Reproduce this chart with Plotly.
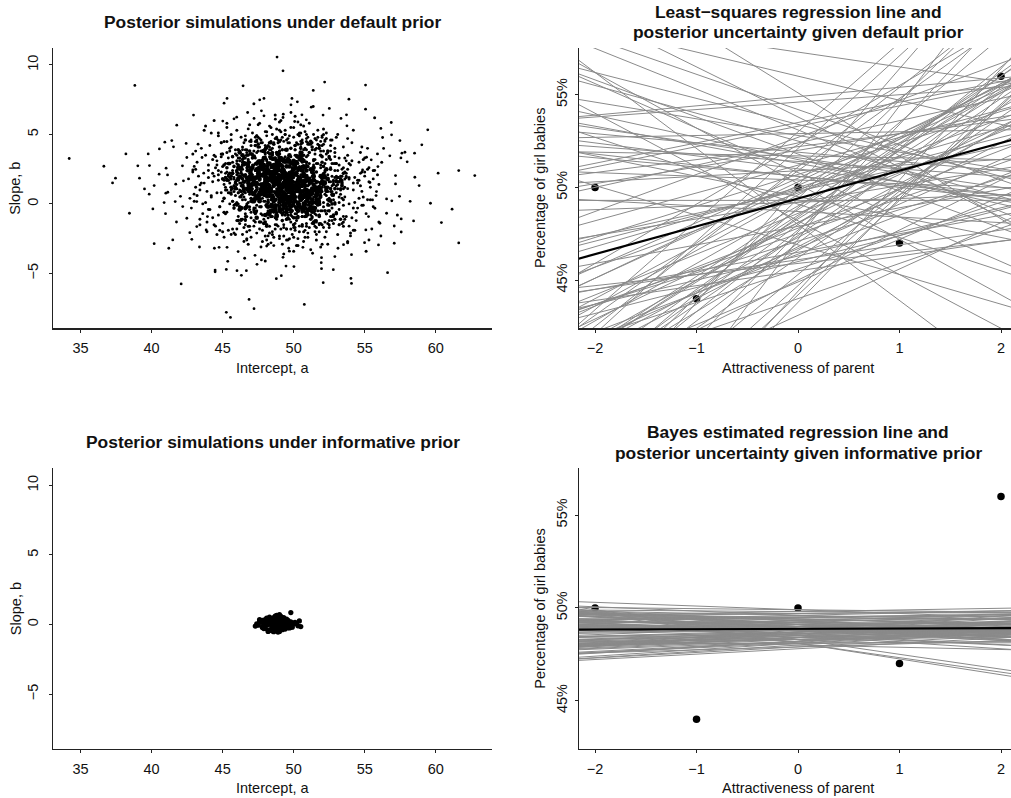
import plotly.graph_objects as go

W, H = 1011, 798

# ------------------------------------------------------------------ data
obs_x = [-2, -1, 0, 1, 2]
obs_y = [50, 44, 50, 47, 56]
ls_fit = [49.4, 1.5]        # least-squares intercept, slope
bayes_fit = [48.87, 0.02]   # Bayes estimate intercept, slope

# posterior simulations, default prior: dense centre
core_a = [
    49.1, 47.8, 50.6, 48.4, 51.2, 49.7, 46.9, 50.0, 48.8, 52.0,
    48.1, 49.5, 50.9, 47.3, 49.9, 51.6, 48.6, 50.3, 47.9, 49.3,
    50.7, 46.5, 49.0, 51.1, 48.2, 49.8, 50.4, 47.6, 52.3, 48.9,
    49.4, 50.2, 47.1, 48.5, 51.8, 49.6, 48.0, 50.8, 46.3, 49.2,
    51.4, 48.7, 50.1, 47.4, 49.0, 50.5, 48.3, 51.0, 49.7, 47.7,
    48.9, 52.1, 49.4, 46.7, 50.6, 48.1, 49.9, 47.5, 51.3, 50.0,
    47.2, 49.6, 50.9, 48.6, 46.1, 51.7, 49.1, 48.4, 50.2, 49.5,
    50.4, 48.0, 47.9, 51.5, 49.3, 46.8, 50.7, 48.8, 52.2, 49.8,
    48.5, 50.3, 49.0, 47.0, 51.9, 48.2, 50.1, 49.6, 47.6, 51.1,
    49.7, 46.4, 50.8, 48.7, 49.2, 51.2, 47.8, 50.5, 48.3, 49.9,
    51.6, 49.4, 48.1, 50.0, 47.3, 52.4, 48.9, 49.1, 50.6, 46.6,
    48.4, 50.9, 49.5, 47.7, 51.4, 48.6, 50.3, 46.2, 49.8, 51.0,
    50.2, 47.5, 48.8, 51.8, 49.3, 48.0, 50.7, 47.1, 49.6, 52.0,
    49.0, 51.3, 46.9, 50.4, 48.5, 49.7, 47.4, 50.1, 51.5, 48.2,
    47.9, 49.2, 50.8, 48.7, 46.5, 51.1, 49.9, 48.3, 50.5, 47.6,
    50.0, 48.6, 51.7, 49.4, 47.2, 50.2, 48.9, 46.7, 51.9, 49.1,
    48.1, 50.6, 49.5, 47.8, 52.1, 48.4, 50.9, 49.0, 47.0, 51.2,
    49.8, 46.3, 50.3, 48.8, 51.6, 49.3, 47.5, 50.7, 48.0, 49.6,
    51.0, 48.5, 47.3, 50.1, 49.7, 52.3, 48.2, 46.8, 50.4, 49.2,
    47.7, 50.8, 49.0, 51.4, 48.7, 49.9, 46.1, 50.0, 48.3, 51.8,
    49.5, 48.9, 50.5, 47.4, 51.3, 48.1, 49.4, 50.9, 47.9, 52.2,
    48.6, 51.1, 46.6, 49.8, 50.2, 48.4, 51.5, 49.1, 47.1, 50.6,
    50.3, 47.6, 49.3, 48.0, 51.7, 50.0, 46.4, 49.7, 48.8, 51.0,
    49.2, 50.7, 48.5, 52.0, 47.2, 49.6, 50.4, 48.2, 51.2, 46.9,
    47.8, 49.0, 51.9, 48.7, 50.1, 46.2, 49.5, 50.8, 48.3, 49.9,
    51.4, 48.9, 47.5, 50.5, 49.4, 51.6, 48.1, 47.0, 50.3, 49.8,
    49.3, 48.4, 50.2, 47.7, 49.8, 50.9, 48.9, 47.2, 50.5, 49.0,
    48.1, 50.0, 49.5, 51.3, 48.6, 47.5, 49.9, 50.7, 48.3, 49.2,
    50.4, 47.9, 48.8, 49.6, 51.0, 48.0, 50.1, 49.4, 47.0, 51.6,
    48.7, 49.7, 50.8, 48.2, 47.4, 49.1, 50.3, 51.4, 48.5, 49.8,
    49.5, 51.1, 47.8, 50.6, 49.0, 48.3, 46.9, 50.0, 49.3, 48.6,
    50.9, 48.9, 49.6, 47.3, 50.2, 51.7, 48.1, 49.4, 50.5, 47.6,
    48.4, 50.4, 49.1, 48.8, 51.2, 47.1, 49.9, 48.0, 50.7, 49.2,
    49.7, 47.8, 50.1, 49.5, 48.5, 50.8, 47.5, 51.5, 49.0, 48.2,
    51.0, 49.3, 48.6, 47.9, 50.3, 49.8, 48.9, 50.6, 46.8, 49.6,
    48.1, 50.0, 51.3, 49.1, 47.7, 48.7, 50.9, 49.4, 48.3, 50.2,
    49.9, 48.4, 47.2, 50.5, 49.2, 51.8, 48.8, 49.7, 50.1, 47.4,
    50.7, 49.5, 48.0, 49.0, 51.1, 48.6, 50.4, 47.6, 49.3, 48.9,
    48.2, 51.4, 49.8, 48.5, 50.0, 47.0, 49.6, 50.8, 48.7, 49.1,
    49.4, 47.3, 50.6, 49.2, 48.1, 50.3, 51.6, 48.8, 49.9, 50.9,
    47.8, 49.0, 48.4, 51.2, 49.7, 48.3, 50.2, 47.5, 50.5, 49.5,
]
core_b = [
    1.3, 2.1, 0.4, 1.8, -0.2, 2.7, 1.0, 0.7, 3.1, 1.5,
    0.9, 1.6, 2.4, -0.6, 1.2, 0.1, 2.0, 3.4, 1.4, 0.6,
    2.2, 1.1, -0.3, 1.7, 2.9, 0.8, 1.3, 0.2, 2.5, 1.9,
    0.5, 3.0, 1.4, 2.3, 0.0, 1.8, -0.8, 1.0, 2.6, 1.2,
    1.7, 0.3, 2.8, 1.5, 0.9, 3.6, 1.1, -0.4, 2.0, 0.7,
    2.5, 1.4, 0.6, 1.9, 3.2, -0.1, 1.6, 2.2, 0.8, 1.3,
    0.2, 2.0, 1.7, -0.5, 2.6, 1.0, 0.4, 3.3, 1.5, 2.1,
    1.8, 0.9, 3.8, 1.2, 0.1, 2.4, 1.6, -0.9, 1.9, 0.5,
    2.7, 1.3, 0.7, 2.1, 1.0, -0.2, 2.9, 1.4, 0.3, 1.7,
    1.1, 3.5, 0.0, 1.6, 2.3, 0.8, 1.2, 2.6, -0.7, 1.9,
    0.6, 2.2, 1.5, 3.0, 0.4, 1.8, 2.5, 0.9, 1.3, -0.3,
    2.0, 1.0, -0.6, 2.8, 1.4, 0.2, 1.7, 3.7, 1.1, 0.7,
    1.5, 2.4, 0.8, 1.2, -0.1, 2.1, 0.5, 1.9, 3.1, 1.6,
    3.3, 0.3, 1.8, 0.9, 2.7, 1.4, -1.0, 2.2, 1.0, 0.6,
    1.2, 1.9, 2.6, -0.4, 1.6, 0.1, 2.3, 1.3, 3.4, 0.8,
    0.4, 2.8, 1.1, 1.7, 0.7, 3.0, 1.5, -0.2, 2.0, 1.0,
    2.3, 0.6, 3.9, 1.3, 2.1, -0.5, 0.9, 1.8, 1.4, 2.5,
    1.6, -0.3, 1.2, 2.9, 0.3, 1.9, 2.4, 0.0, 1.1, 3.2,
    0.8, 2.2, 1.4, 0.5, 3.5, 1.0, -0.7, 2.7, 1.7, 0.2,
    2.6, 1.3, 0.1, 2.0, 1.5, -0.1, 1.8, 3.1, 0.9, 1.2,
    1.0, 3.6, 1.7, 0.4, 2.3, 1.1, 0.6, -0.6, 2.8, 1.5,
    2.1, 0.7, 2.9, 1.4, -0.3, 1.9, 1.2, 3.3, 0.2, 1.6,
    0.0, 1.8, 2.4, 1.1, 0.8, 3.0, 1.3, 2.0, -0.8, 1.7,
    1.4, 2.7, -0.2, 1.9, 3.4, 0.5, 1.0, 2.2, 1.6, 0.9,
    3.1, 0.3, 1.5, 2.6, 1.2, -0.4, 2.1, 0.7, 1.8, 2.9,
    1.1, 1.6, 0.6, 3.7, 2.0, 0.1, 1.4, 2.5, -0.5, 1.3,
    1.5, 0.6, 2.2, 1.0, -0.2, 1.8, 2.7, 0.3, 1.3, 2.0,
    0.9, 2.5, 1.2, 0.1, 1.7, 3.0, 0.5, 1.4, 2.3, -0.4,
    1.9, 0.8, 2.8, 1.1, 0.4, 1.6, 2.1, -0.1, 1.3, 0.7,
    2.4, 1.0, -0.3, 1.7, 2.9, 0.2, 1.5, 2.0, 0.6, 1.2,
    0.3, 1.8, 2.6, 1.4, -0.5, 2.2, 1.1, 0.8, 3.2, 1.6,
    1.7, 2.8, 0.5, 1.9, 1.0, 0.0, 2.4, 1.3, 0.7, 2.1,
    1.1, -0.2, 2.0, 1.5, 0.9, 2.6, 0.4, 1.8, 3.1, 1.2,
    2.2, 1.4, 0.2, 2.7, 1.6, 0.6, 1.9, -0.3, 1.0, 2.3,
    0.8, 2.1, 1.3, 3.3, 0.1, 1.7, 2.5, 0.9, 1.5, 0.4,
    1.9, 0.5, 1.1, 2.4, 1.4, -0.1, 2.0, 0.7, 2.9, 1.2,
    0.6, 2.2, 1.6, 0.3, 2.7, 1.0, 1.8, 0.0, 1.3, 2.5,
    2.0, -0.4, 1.2, 1.7, 0.8, 2.3, 0.5, 3.0, 1.5, 1.0,
    1.4, 2.6, 0.2, 1.9, 1.1, 0.9, 2.1, 1.6, -0.2, 2.8,
    0.7, 1.5, 2.4, 0.4, 1.8, 1.3, 0.1, 2.2, 1.0, 1.7,
    2.5, 1.2, 0.9, 1.6, 3.1, 0.6, 1.4, 2.0, 0.3, 1.1,
]

# posterior simulations, default prior: wider dark zone around the centre
ring_a = [
    46.3, 50.8, 48.1, 52.4, 47.0, 49.6, 51.5, 45.4, 50.1, 48.7,
    52.9, 47.6, 49.2, 46.0, 51.1, 48.4, 53.3, 49.9, 46.8, 50.5,
    48.9, 45.7, 51.8, 47.3, 50.0, 52.2, 46.5, 49.4, 51.0, 47.9,
    50.7, 48.2, 46.2, 53.0, 49.0, 47.4, 51.9, 45.1, 50.3, 48.6,
    47.1, 51.3, 49.7, 45.9, 52.6, 48.0, 50.9, 46.7, 49.3, 51.6,
    45.6, 49.8, 52.0, 48.5, 46.4, 50.6, 47.7, 53.4, 48.8, 50.2,
    51.2, 46.9, 48.3, 50.4, 52.8, 45.3, 49.1, 47.5, 51.7, 49.5,
    48.0, 52.3, 45.8, 49.9, 47.2, 51.4, 46.1, 50.7, 48.7, 52.5,
    49.4, 47.8, 51.0, 46.6, 53.1, 48.9, 50.0, 45.5, 49.6, 51.9,
    46.2, 50.3, 48.5, 52.7, 47.9, 45.0, 51.3, 49.2, 47.4, 50.8,
    52.1, 48.1, 46.8, 49.7, 51.5, 47.0, 53.2, 48.4, 50.5, 46.3,
    50.0, 45.7, 49.0, 51.8, 48.6, 52.9, 46.5, 49.8, 47.6, 51.1,
    47.3, 51.6, 50.2, 45.2, 49.4, 47.9, 52.4, 48.2, 46.0, 50.9,
    53.0, 49.1, 46.9, 50.6, 48.0, 51.2, 45.9, 49.5, 52.2, 47.1,
    48.8, 46.4, 51.9, 47.7, 50.1, 49.3, 53.5, 46.7, 48.5, 51.4,
    45.5, 50.4, 48.3, 52.6, 47.5, 49.9, 46.1, 51.0, 49.6, 47.2,
    51.7, 47.8, 50.7, 46.6, 49.0, 52.3, 48.4, 45.6, 50.3, 48.9,
    49.2, 52.8, 46.3, 48.1, 51.3, 47.0, 50.0, 53.1, 46.8, 49.7,
    47.4, 49.5, 51.5, 45.3, 48.7, 50.8, 47.9, 52.0, 49.1, 46.2,
    50.5, 46.9, 48.0, 51.8, 52.5, 49.4, 45.8, 48.6, 51.1, 47.6,
    46.0, 51.0, 49.8, 47.3, 50.2, 45.4, 52.7, 48.2, 49.0, 50.6,
    52.4, 48.5, 45.1, 50.9, 47.7, 51.6, 49.3, 46.5, 53.3, 48.0,
    48.3, 50.1, 52.1, 46.4, 49.6, 47.1, 50.4, 51.4, 45.7, 49.9,
    51.3, 47.5, 49.2, 53.4, 46.1, 48.8, 50.7, 47.8, 52.2, 46.7,
    49.7, 45.9, 50.3, 48.4, 51.9, 46.3, 49.0, 52.6, 48.1, 50.0,
]
ring_b = [
    2.6, -0.9, 1.4, 3.8, 0.2, 2.1, -0.3, 1.7, 4.2, 0.8,
    1.1, 3.1, -1.2, 2.4, 0.5, 3.6, 1.8, -0.5, 2.9, 1.3,
    -0.1, 2.2, 4.0, 0.9, -1.5, 1.6, 3.3, 0.3, 2.7, 1.0,
    3.5, 0.1, 2.0, -0.7, 4.5, 1.2, 0.6, 2.8, -1.0, 1.9,
    0.7, 4.1, -0.4, 1.5, 2.5, -1.3, 3.0, 1.1, 0.0, 2.3,
    2.0, -0.6, 3.4, 0.4, 1.8, 4.4, -0.2, 1.3, 3.7, 0.9,
    -1.1, 1.7, 0.6, 3.2, -0.8, 2.6, 1.0, 4.3, 0.2, 2.1,
    3.9, 1.2, -0.3, 2.4, 0.8, -1.4, 2.8, 1.6, 3.3, -0.5,
    1.4, 2.9, 0.3, 4.6, 1.9, 0.5, -1.0, 2.2, 1.1, 3.5,
    -0.2, 1.0, 3.6, 0.7, 2.6, 1.8, -0.6, 3.9, 0.4, 2.0,
    2.7, -1.6, 1.3, 3.1, 0.1, 2.3, 1.6, -0.1, 4.0, 0.9,
    0.5, 3.4, 2.1, -0.9, 1.5, 0.0, 2.9, 1.2, -1.3, 3.7,
    4.2, 0.8, -0.4, 1.9, 3.0, 1.4, 0.3, 2.5, 1.7, -0.7,
    1.6, 2.4, 3.8, -0.2, 0.6, 4.5, 1.1, -1.1, 2.0, 0.2,
    -0.8, 3.2, 0.9, 2.7, 1.3, -0.3, 2.2, 3.5, 0.4, 1.8,
    2.9, 0.0, 1.7, 1.1, 4.1, 2.6, -1.2, 0.7, 3.3, 1.5,
    0.3, 3.8, -0.5, 2.1, 1.6, 0.9, 4.4, 1.2, -0.9, 2.4,
    3.1, 1.4, 2.5, -1.5, 0.8, 3.6, 0.1, 1.9, 2.8, -0.1,
    1.0, -0.6, 3.9, 1.7, 2.3, 0.5, -1.4, 3.0, 0.6, 2.6,
    -0.3, 2.0, 1.3, 0.2, 3.4, -0.8, 2.7, 4.3, 1.5, 0.8,
    2.3, 0.6, 4.0, 1.8, -1.0, 2.9, 0.0, 1.1, 3.6, -0.4,
    1.2, 3.7, 0.4, -0.6, 2.1, 1.6, 3.2, 0.9, -1.1, 2.5,
    4.4, -0.2, 1.9, 2.8, 0.3, 3.3, 1.0, -1.3, 2.2, 1.4,
    0.1, 2.6, -0.7, 1.5, 3.9, 0.7, 2.0, 3.1, -0.5, 1.7,
    3.0, 1.2, 2.4, -0.9, 0.5, 1.9, 4.1, 0.2, 2.7, -0.1,
]

# posterior simulations, default prior: surrounding cloud
mid_a = [
    47.3, 51.8, 45.6, 49.9, 53.2, 44.8, 50.7, 48.1, 54.5, 46.9,
    52.6, 49.0, 43.9, 51.3, 47.7, 55.4, 48.6, 46.2, 50.5, 53.9,
    45.1, 50.2, 48.9, 52.0, 44.3, 49.4, 51.7, 47.0, 54.1, 46.5,
    50.9, 46.8, 53.5, 48.3, 45.9, 51.1, 49.7, 55.9, 47.5, 52.3,
    48.0, 44.6, 51.5, 46.1, 50.0, 53.7, 47.8, 49.2, 42.9, 52.8,
    54.8, 49.6, 47.2, 51.9, 45.3, 48.5, 50.6, 46.6, 53.0, 49.1,
    46.0, 52.4, 48.7, 44.0, 51.0, 47.4, 54.2, 50.3, 45.7, 49.8,
    51.6, 47.9, 50.1, 53.3, 46.4, 49.3, 43.5, 52.1, 48.2, 55.0,
    49.5, 45.0, 52.7, 48.8, 51.2, 46.7, 50.4, 47.1, 53.6, 44.4,
    50.8, 48.4, 46.3, 54.7, 49.0, 52.5, 45.4, 51.4, 47.6, 50.0,
    43.2, 51.7, 49.3, 47.5, 53.1, 46.0, 50.9, 48.6, 55.6, 52.2,
    47.0, 50.5, 44.7, 51.8, 49.7, 46.8, 53.4, 48.1, 45.8, 50.2,
    52.9, 46.2, 49.8, 47.7, 51.0, 54.3, 48.9, 44.2, 50.7, 49.4,
    45.5, 53.8, 48.0, 50.3, 46.5, 52.0, 49.1, 51.5, 47.3, 56.2,
    49.6, 47.9, 52.6, 45.2, 50.8, 48.3, 54.0, 46.9, 51.3, 43.7,
    51.1, 44.9, 50.0, 48.7, 53.5, 47.1, 49.2, 52.4, 46.1, 50.6,
    48.2, 52.8, 46.6, 51.6, 49.5, 45.6, 50.1, 47.8, 54.9, 49.0,
    53.0, 48.5, 45.0, 50.4, 47.4, 51.9, 44.5, 49.7, 52.1, 46.4,
    47.6, 50.9, 49.3, 53.7, 46.8, 48.0, 51.2, 45.3, 50.5, 55.2,
    50.2, 46.3, 52.3, 48.9, 44.1, 51.4, 47.2, 53.2, 49.8, 48.4,
    45.8, 51.5, 47.9, 50.7, 52.9, 46.0, 49.1, 54.4, 48.6, 43.0,
    52.0, 49.4, 46.7, 48.1, 51.0, 45.1, 53.9, 50.3, 47.0, 49.9,
    48.8, 53.4, 50.6, 45.7, 49.0, 52.5, 47.5, 51.8, 44.6, 50.1,
    46.9, 50.0, 54.6, 48.3, 51.3, 47.7, 49.6, 45.9, 52.7, 48.7,
    51.7, 44.3, 49.2, 52.2, 46.2, 50.8, 48.0, 53.1, 47.3, 55.7,
    49.0, 47.1, 51.1, 45.4, 50.4, 48.5, 52.6, 46.5, 49.7, 53.6,
    44.8, 52.1, 48.2, 50.9, 47.8, 54.1, 49.3, 46.1, 51.6, 48.9,
    53.3, 46.7, 50.2, 48.4, 45.2, 51.2, 47.6, 49.5, 52.8, 50.7,
    47.4, 50.5, 43.8, 52.4, 49.9, 46.3, 51.4, 48.1, 54.8, 45.6,
    50.1, 48.6, 53.0, 47.0, 51.8, 44.4, 49.4, 52.0, 46.8, 50.3,
    52.5, 45.9, 49.1, 51.0, 47.2, 53.8, 48.8, 50.6, 44.9, 49.8,
    46.4, 51.3, 48.3, 54.2, 50.0, 47.7, 52.3, 45.5, 49.6, 51.5,
    49.2, 53.5, 46.0, 50.8, 48.5, 51.9, 43.4, 47.9, 52.9, 50.2,
    51.2, 47.3, 50.4, 45.3, 49.0, 52.7, 48.0, 55.3, 46.6, 50.9,
    48.4, 52.2, 44.7, 49.7, 51.7, 46.9, 50.0, 53.2, 47.5, 49.3,
    48.6, 51.3, 46.2, 50.0, 47.9, 52.7, 49.4, 45.5, 50.8, 48.1,
    50.5, 47.3, 49.9, 53.4, 48.4, 46.7, 51.6, 49.1, 44.9, 50.3,
    47.6, 49.7, 52.2, 48.8, 45.8, 50.9, 47.1, 51.0, 49.3, 53.1,
    51.9, 48.2, 46.4, 49.6, 50.6, 47.8, 52.5, 48.9, 46.0, 49.0,
    45.2, 50.1, 48.5, 51.4, 47.4, 49.8, 53.7, 46.9, 50.4, 48.7,
    49.5, 46.5, 51.2, 48.0, 52.9, 47.0, 49.2, 50.7, 45.6, 51.7,
    48.3, 52.4, 47.7, 50.2, 46.3, 49.4, 51.1, 48.6, 53.5, 47.2,
    50.9, 45.9, 49.0, 47.5, 51.5, 48.9, 46.8, 52.0, 49.7, 50.5,
    46.6, 50.3, 53.0, 48.2, 49.6, 45.4, 51.8, 47.9, 50.0, 48.8,
    52.6, 48.5, 46.1, 50.8, 47.3, 51.3, 49.1, 44.7, 49.9, 51.0,
    47.8, 49.3, 51.6, 46.4, 50.4, 48.0, 52.3, 49.8, 47.0, 53.3,
    50.1, 47.6, 48.7, 52.8, 45.7, 50.6, 48.4, 51.4, 46.9, 49.5,
    49.0, 51.9, 47.4, 49.7, 53.8, 46.2, 50.7, 48.1, 51.2, 45.1,
    51.5, 46.7, 50.2, 48.6, 47.1, 52.1, 49.4, 45.8, 50.9, 48.3,
    46.0, 50.0, 48.9, 51.7, 49.2, 47.5, 53.2, 48.8, 46.5, 50.5,
    52.4, 48.2, 45.3, 50.3, 47.9, 51.1, 49.6, 52.7, 47.7, 49.1,
    48.0, 53.6, 49.8, 46.3, 51.3, 48.5, 50.8, 45.0, 49.3, 51.8,
    50.7, 47.2, 51.9, 49.0, 46.6, 50.1, 47.8, 52.5, 48.4, 46.1,
    49.7, 51.4, 46.8, 48.7, 52.2, 45.6, 50.4, 49.5, 47.4, 53.9,
    47.1, 50.6, 49.2, 51.0, 48.1, 53.0, 46.4, 50.0, 51.6, 48.9,
    51.2, 45.5, 48.6, 50.9, 47.6, 49.9, 52.6, 46.9, 50.2, 48.2,
    46.3, 52.0, 50.5, 47.3, 49.4, 51.5, 48.8, 45.9, 53.4, 49.6,
    50.3, 48.4, 47.0, 52.9, 49.1, 46.0, 51.7, 48.0, 50.7, 47.5,
    48.7, 51.1, 49.8, 45.2, 50.8, 47.9, 52.3, 49.3, 46.7, 51.4,
    52.8, 47.7, 50.1, 48.5, 46.2, 51.8, 49.0, 53.1, 47.2, 50.4,
    49.5, 46.5, 51.3, 49.9, 48.3, 50.6, 45.7, 52.1, 48.9, 47.8,
    47.4, 50.9, 48.1, 51.6, 53.5, 49.2, 46.8, 50.3, 48.6, 52.4,
    51.0, 48.8, 46.1, 49.7, 47.3, 52.7, 50.0, 45.4, 51.9, 49.4,
    46.9, 52.5, 49.6, 48.2, 50.5, 47.0, 51.2, 48.7, 53.6, 50.8,
    50.2, 47.6, 52.2, 46.4, 49.1, 51.4, 48.0, 50.7, 45.8, 49.8,
    48.4, 51.7, 47.1, 50.1, 52.6, 48.9, 46.3, 49.5, 51.1, 47.9,
    53.2, 49.3, 50.6, 45.6, 48.5, 51.5, 47.7, 52.0, 49.0, 46.6,
    49.9, 46.0, 51.8, 48.3, 50.4, 47.4, 52.9, 49.7, 48.1, 50.9,
    47.2, 50.0, 48.7, 53.0, 46.5, 51.3, 49.4, 47.8, 52.3, 48.6,
    51.6, 48.2, 45.1, 50.3, 49.2, 47.0, 51.0, 53.7, 48.8, 46.7,
    50.6, 52.8, 47.5, 49.6, 46.2, 50.8, 48.4, 51.9, 47.3, 49.1,
    46.8, 49.8, 51.4, 48.0, 52.5, 45.3, 50.2, 48.9, 50.5, 52.1,
    49.0, 47.6, 50.7, 46.1, 51.2, 49.5, 53.3, 47.9, 48.5, 50.1,
    52.0, 48.3, 49.3, 51.7, 47.1, 50.4, 46.4, 49.7, 52.6, 48.6,
    48.1, 50.9, 46.9, 49.2, 53.4, 48.7, 51.5, 45.7, 50.0, 47.4,
]
mid_b = [
    2.4, -0.8, 4.1, 1.0, 3.3, -1.9, 0.5, 5.2, 1.7, -0.2,
    0.9, 3.8, -1.3, 2.0, 4.6, 0.3, -2.4, 1.5, 5.7, 2.9,
    -0.6, 1.2, 3.5, -2.9, 2.2, 0.7, 4.3, 1.8, -1.0, 3.0,
    5.0, 0.1, 2.6, -1.6, 3.9, 1.4, -0.4, 2.1, 4.8, 0.6,
    1.9, -2.2, 3.2, 0.8, 5.5, -0.9, 2.7, 1.1, 3.6, -1.4,
    -0.1, 4.4, 1.6, -3.1, 2.3, 0.4, 3.7, -0.7, 1.3, 6.0,
    3.1, 0.0, -1.8, 2.8, 1.0, 4.9, -0.3, 2.5, 0.2, 3.4,
    -2.6, 2.0, 4.2, 0.7, -1.1, 3.0, 1.5, 5.4, -0.5, 2.3,
    1.1, 3.6, -0.9, 4.7, 0.4, 2.6, -2.0, 1.8, 3.3, -1.5,
    4.0, -0.2, 2.2, 1.3, 5.9, -1.2, 0.8, 3.1, 2.0, -3.4,
    0.6, 2.9, -1.7, 3.8, 1.6, 0.1, 4.5, -0.6, 2.4, 1.2,
    -1.0, 5.1, 2.1, 0.3, -2.5, 3.5, 1.4, 4.0, 0.9, -0.4,
    3.7, 1.0, -0.8, 2.6, 4.3, -1.9, 1.8, 0.5, 5.6, 2.2,
    1.5, -2.8, 3.3, 0.9, 2.0, 4.8, -0.1, 1.7, -1.3, 3.0,
    2.7, 0.2, 4.6, -0.7, 1.1, 3.9, -2.1, 2.4, 0.7, 5.3,
    -0.3, 3.4, 1.2, 6.4, -1.6, 2.1, 0.4, 3.7, 1.9, -0.9,
    4.2, 1.6, -1.1, 2.9, 0.0, 5.0, 1.3, -2.7, 3.2, 0.8,
    2.0, -0.5, 3.6, 1.4, 4.9, -1.4, 2.6, 0.3, -0.2, 4.1,
    0.5, 2.8, -2.3, 1.9, 3.1, 0.9, -0.8, 5.8, 1.6, 2.5,
    3.5, -1.2, 1.0, 4.4, -0.4, 2.2, 3.8, 0.1, -1.8, 1.7,
    1.3, 4.7, 0.6, -2.0, 2.9, 1.1, 5.2, -0.6, 3.3, 0.2,
    -1.5, 2.3, 3.9, 0.7, -0.1, 4.5, 1.8, -3.0, 2.6, 1.0,
    5.4, 0.4, -0.9, 3.0, 1.5, -1.7, 2.1, 4.2, 0.8, 2.7,
    2.2, -2.4, 1.7, 3.6, 0.0, 2.9, -1.0, 1.2, 4.6, -0.3,
    0.9, 3.2, 4.8, -1.3, 2.5, 0.5, 3.7, 1.4, -0.7, 6.2,
    3.8, 1.1, -0.5, 2.0, 5.1, -2.2, 0.3, 2.8, 1.6, -1.1,
    -0.2, 4.3, 2.4, 0.6, -1.9, 3.1, 1.9, 0.0, 4.0, 2.6,
    1.7, -0.9, 3.4, 5.5, 1.0, -0.4, 2.7, -2.6, 0.7, 3.9,
    4.5, 2.1, 0.1, -1.4, 3.0, 1.5, -0.6, 4.1, 2.3, 0.8,
    -1.7, 1.4, 2.9, 0.4, -0.8, 3.5, 5.0, 1.2, -2.9, 2.0,
    3.3, 0.0, 1.8, 4.4, -1.2, 2.5, 0.6, -0.3, 3.6, 1.1,
    0.7, 3.9, -2.1, 1.5, 2.8, -0.7, 4.7, 1.9, 0.2, -1.6,
    2.6, -0.1, 5.3, 1.0, 3.2, 0.5, -1.5, 2.2, 4.0, 1.3,
    -0.5, 2.4, 1.1, 3.7, -2.3, 0.9, 4.2, 1.6, -0.9, 3.0,
    1.9, 4.6, -0.8, 2.3, 0.3, 5.7, -1.0, 2.8, 1.4, -3.6,
    1.9, -0.4, 3.1, 0.8, 2.5, -1.2, 1.4, 4.0, 0.2, 2.2,
    0.6, 3.3, -0.9, 1.7, 2.8, 0.0, -1.7, 1.1, 4.4, 2.0,
    -0.2, 1.5, 2.9, -1.5, 1.8, 0.9, 3.6, 1.3, -0.6, 2.4,
    3.8, 0.3, 2.1, -0.8, 3.0, 1.0, -0.1, 1.6, 3.5, 0.7,
    1.2, -1.9, 2.6, 0.5, 4.6, -0.5, 2.0, 1.4, 2.7, -1.0,
    0.1, 3.4, 1.7, -2.3, 1.9, 0.4, 3.1, -0.3, 1.0, 4.8,
    2.3, 0.9, -1.3, 2.2, 0.6, 3.9, 0.0, 1.8, 0.3, 2.8,
    -1.6, 1.6, 3.2, 0.7, -0.7, 2.5, 1.2, 4.2, -0.2, 1.9,
    0.8, 2.9, -0.6, 3.7, 0.2, 2.1, -1.4, 1.5, 2.6, -1.1,
    3.2, 0.0, 1.7, 1.0, 4.5, -0.9, 0.6, 2.4, 1.5, -2.4,
    0.4, 2.3, -1.2, 3.0, 1.3, 0.2, 3.6, -0.4, 1.9, 1.0,
    -0.7, 4.1, 1.6, 0.3, -1.8, 2.7, 1.1, 3.2, 0.7, -0.2,
    2.9, 0.8, -0.5, 2.0, 3.5, -1.4, 1.4, 0.5, 4.3, 1.7,
    1.1, -2.0, 2.6, 0.9, 1.5, 3.8, 0.0, 1.3, -0.9, 2.4,
    2.1, 0.1, 3.7, -0.5, 0.9, 3.1, -1.5, 1.8, 0.5, 4.1,
    -0.1, 2.7, 1.0, 5.0, -1.1, 1.6, 0.3, 2.9, 1.4, -0.6,
    3.4, 1.2, -0.8, 2.3, 0.0, 4.0, 1.0, -2.0, 2.5, 0.6,
    1.6, -0.3, 2.8, 1.1, 3.9, -1.0, 2.0, 0.3, -0.1, 3.3,
    0.4, 2.2, -1.6, 1.5, 2.4, 0.7, -0.5, 4.6, 1.2, 1.9,
    2.8, -0.9, 0.8, 3.5, -0.2, 1.7, 3.0, 0.1, -1.3, 1.3,
    1.0, 3.8, 0.5, -1.4, 2.3, 0.9, 4.2, -0.4, 2.6, 0.2,
    -1.1, 1.8, 3.1, 0.6, 0.0, 3.6, 1.4, -2.2, 2.0, 0.8,
    4.3, 0.3, -0.6, 2.4, 1.2, -1.2, 1.6, 3.3, 0.6, 2.1,
    1.7, -1.7, 1.3, 2.9, 0.0, 2.3, -0.7, 0.9, 3.7, -0.2,
    0.7, 2.5, 3.9, -0.9, 2.0, 0.4, 3.0, 1.1, -0.5, 4.9,
    3.0, 0.9, -0.3, 1.6, 4.1, -1.6, 0.2, 2.2, 1.3, -0.8,
    -0.1, 3.4, 1.9, 0.5, -1.3, 2.5, 1.5, 0.0, 3.2, 2.1,
    1.3, -0.6, 2.7, 4.4, 0.8, -0.3, 2.1, -1.9, 0.5, 3.1,
    3.6, 1.6, 0.1, -1.0, 2.4, 1.2, -0.4, 3.3, 1.8, 0.6,
    -1.2, 1.1, 2.3, 0.3, -0.6, 2.8, 4.0, 0.9, -2.1, 1.6,
    2.6, 0.0, 1.4, 3.5, -0.9, 2.0, 0.5, -0.2, 2.9, 0.8,
    0.5, 3.1, -1.5, 1.2, 2.2, -0.5, 3.8, 1.5, 0.1, -1.2,
    2.1, -0.1, 4.2, 0.8, 2.5, 0.4, -1.1, 1.7, 3.2, 1.0,
    -0.4, 1.9, 0.9, 2.9, -1.7, 0.7, 3.4, 1.3, -0.7, 2.4,
    1.5, 3.7, -0.6, 1.8, 0.2, 4.5, -0.8, 2.2, 1.1, -2.5,
    2.7, 0.6, 1.9, -1.0, 3.3, 1.4, 0.0, 2.6, -0.3, 1.2,
    0.9, -1.3, 2.4, 3.6, 0.4, 1.8, -0.7, 2.0, 4.3, 0.1,
    3.1, 1.7, -0.2, 2.2, 0.6, -1.8, 1.1, 2.8, 0.3, 3.9,
    -0.5, 2.3, 1.5, 0.0, 3.5, 0.9, 2.5, -1.1, 1.6, 2.0,
    1.8, 0.2, 3.0, -0.8, 1.3, 4.7, 0.5, 2.4, -1.5, 1.0,
]

# posterior simulations, default prior: halo between the dense centre and the tails
halo_sims = [
    (43.1, 1.2), (44.6, 2.8), (45.3, -0.6), (43.8, 3.5), (46.0, -1.8), (42.7, 0.4), (44.1, 4.2), (45.8, 1.9), (43.4, -1.1), (44.9, 0.8),
    (46.4, 3.9), (42.9, 2.3), (45.1, -2.4), (44.3, 1.6), (43.6, 0.0), (45.6, 4.6), (44.0, -0.4), (46.2, 2.5), (43.2, 3.0), (45.0, -1.4),
    (44.7, 5.1), (46.6, 0.3), (42.6, 1.8), (45.4, 3.3), (43.9, -2.0), (44.4, 2.0), (46.1, -0.9), (43.5, 4.0), (44.8, -0.2), (45.7, 1.1),
    (43.0, 2.7), (46.3, 4.8), (44.2, 0.6), (45.2, 2.2), (43.7, 1.5), (44.5, -1.6), (45.9, 3.6), (42.8, -0.3), (44.6, 3.1), (45.5, 0.0),
    (43.3, 2.0), (46.5, -2.7), (44.9, 4.4), (45.1, 1.4), (43.9, 0.9), (46.0, 2.9), (44.3, -1.0), (45.8, -0.1), (43.1, 3.8), (44.7, 1.7),
    (45.3, 5.5), (46.7, 1.0), (44.0, 2.4), (45.6, -2.2), (43.6, -0.7), (46.2, 0.5), (44.5, 3.4), (45.0, 0.2), (43.4, 1.0), (46.8, 3.2),
    (54.2, 1.0), (52.9, 3.4), (55.1, -0.7), (53.6, 2.3), (54.8, 4.1), (53.2, -1.5), (55.6, 1.8), (52.5, 0.2), (54.0, -2.3), (53.8, 4.7),
    (55.3, 2.6), (52.7, 1.3), (54.5, -0.3), (53.1, 5.0), (55.8, 0.6), (52.8, 2.9), (54.3, 1.9), (53.5, -0.9), (55.0, 3.3), (53.9, 0.0),
    (54.7, 2.2), (52.6, 3.8), (55.5, -1.8), (54.1, 4.4), (53.4, 1.6), (55.2, 0.3), (52.4, -0.5), (54.6, 3.0), (53.0, 0.8), (55.7, 2.4),
    (54.4, -1.2), (53.7, 3.1), (52.2, 4.5), (55.4, 1.2), (54.9, -0.1), (53.3, 2.0), (52.3, -2.0), (54.2, 5.3), (55.9, 3.6), (53.6, 0.5),
    (52.8, 1.7), (54.8, 0.9), (53.9, -1.6), (55.2, 4.0), (52.6, 2.6), (54.0, 2.8), (53.2, -0.4), (55.6, -0.2), (54.5, 1.5), (52.9, -1.1),
    (53.5, 4.1), (55.0, 2.0), (54.3, 0.1), (52.5, 3.3), (55.3, -2.6), (53.8, 1.1), (54.7, 3.7), (52.7, 0.6), (53.4, 2.5), (56.0, 1.4),
    (47.0, 4.6), (51.4, 5.0), (46.8, 5.4), (50.2, 4.4), (48.1, 4.9), (51.9, 4.5), (47.5, 5.7), (49.6, 4.7), (50.8, 5.2), (48.6, 4.4),
    (51.1, 5.8), (47.3, 4.8), (50.5, 4.5), (49.0, 5.3), (52.0, 4.9), (46.9, 4.5), (49.4, 5.0), (51.6, 4.6), (48.3, 5.6), (50.0, 4.8),
    (47.8, 4.4), (49.1, 4.6), (51.7, 5.3), (48.4, 4.5), (50.9, 4.7), (47.1, 5.1), (49.8, 5.5), (51.3, 4.4), (48.8, 4.8), (46.6, 4.9),
    (50.3, 5.9), (47.6, 4.7), (49.3, 4.5), (52.3, 5.1), (48.0, 5.2), (50.6, 4.6), (46.5, 4.4), (51.0, 4.8), (49.7, 4.9), (48.5, 5.0),
    (47.2, -1.6), (51.5, -2.0), (46.7, -2.6), (50.1, -1.4), (48.2, -2.3), (52.1, -1.7), (47.7, -3.1), (49.5, -1.8), (50.7, -2.7), (48.7, -1.5),
    (51.2, -3.3), (47.4, -2.1), (50.4, -1.6), (49.2, -2.9), (52.2, -2.4), (46.9, -1.9), (49.9, -2.2), (51.8, -1.5), (48.4, -2.8), (50.0, -1.7),
    (47.9, -1.4), (49.0, -2.5), (51.6, -2.2), (48.9, -1.6), (50.8, -1.9), (47.0, -2.4), (49.7, -3.4), (51.3, -1.4), (48.5, -2.0), (46.6, -1.5),
    (50.3, -2.5), (47.6, -1.8), (49.3, -1.5), (52.4, -2.9), (48.1, -2.6), (50.6, -1.5), (46.4, -2.2), (51.0, -2.1), (49.6, -2.6), (48.6, -3.0),
]
halo_a = [p[0] for p in halo_sims]
halo_b = [p[1] for p in halo_sims]

# posterior simulations, default prior: scattered outlying draws
outer_sims = [
    (48.83, 10.57), (49.25, 9.58), (52.18, 8.77), (55.06, 8.55), (46.44, 8.50),
    (51.38, 8.17), (45.31, 7.59), (45.10, 7.25), (47.61, 7.49), (47.91, 7.59),
    (49.88, 7.59), (50.26, 7.35), (49.81, 7.13), (51.24, 6.96), (51.38, 7.01),
    (52.51, 6.87), (53.89, 7.54), (55.06, 6.82), (47.73, 6.70), (46.76, 6.58),
    (49.81, 6.58), (49.27, 6.46), (50.58, 6.41), (53.72, 6.41), (52.07, 6.39),
    (42.95, 6.39), (45.80, 6.12), (45.99, 6.24), (47.21, 6.15), (47.91, 6.34),
    (48.71, 6.10), (49.25, 6.22), (53.33, 6.15), (56.87, 5.86), (56.14, 5.43),
    (59.44, 5.33), (41.77, 5.67), (53.75, 5.62), (45.01, 5.96), (50.07, 5.93),
    (50.89, 6.05),
    (45.26, -7.80), (45.55, -8.17), (46.86, -6.87), (47.21, -7.54), (50.75, -7.23),
    (42.08, -5.76), (48.78, -5.38), (49.13, -5.16), (52.08, -5.67), (54.03, -5.36),
    (54.07, -5.72), (56.61, -4.95), (44.47, -4.76), (44.47, -4.88), (45.26, -4.71),
    (46.01, -4.80), (46.32, -5.14), (46.67, -4.80), (45.36, -4.13), (47.42, -4.35),
    (49.46, -4.47), (50.02, -4.51), (51.94, -4.23), (51.96, -4.66), (52.79, -4.73),
    (51.96, -3.87), (52.90, -3.79), (54.07, -3.65), (57.08, -2.83), (61.62, -2.81),
    (40.18, -2.86), (41.21, -3.19), (43.37, -3.10), (44.42, -3.19), (44.75, -3.12),
    (45.31, -3.12), (46.09, -3.43), (46.55, -3.91), (47.28, -3.70), (47.73, -4.03),
    (48.10, -3.03), (49.25, -3.84), (49.65, -3.19), (50.65, -3.12), (51.33, -3.55),
    (53.12, -3.19), (53.51, -2.93), (55.97, -2.95),
    (34.20, 3.27), (36.64, 2.71), (37.25, 1.51), (37.46, 1.85), (38.19, 3.60),
    (38.82, 8.53), (38.44, -0.67), (39.03, 2.74), (39.15, 1.85), (39.50, 1.08),
    (39.83, 0.70), (39.76, 3.60), (39.85, 2.76), (40.18, 1.32), (40.09, -0.36),
    (40.53, 2.14), (40.55, 3.96), (40.93, 4.44), (40.98, -0.70), (41.02, 2.57),
    (41.12, 2.09), (41.14, 0.84), (41.42, 4.56), (41.54, 4.11), (41.49, -2.59),
    (41.70, 1.42), (41.75, -1.30), (42.03, 0.55), (42.17, 2.74), (42.24, 1.66),
    (42.48, 3.34), (42.43, 4.35), (42.69, -2.07), (42.83, -2.55), (42.99, 0.70),
    (43.27, 4.30), (43.55, 3.34), (41.00, 0.77), (40.88, 0.10), (41.66, 0.17),
    (42.19, -0.19), (42.48, -1.03), (43.18, -1.63), (43.41, 1.37), (43.67, 2.21),
    (43.93, -0.91), (43.84, -1.87), (43.18, 0.17), (42.90, 2.45),
    (62.75, 2.04), (61.62, 2.40), (60.17, 2.21), (61.15, -0.38), (60.40, -1.34),
    (59.63, 0.05), (59.02, 4.25), (58.83, 1.32), (58.51, 3.65), (58.53, 1.92),
    (58.44, -1.22), (58.20, 0.19), (57.99, 3.03), (57.83, 3.72), (57.62, 3.65),
    (57.55, 3.31), (57.57, -2.02), (57.57, -1.08), (57.45, 0.55), (57.48, 4.56),
    (57.17, 2.04), (57.17, 1.44), (57.08, -1.59), (56.91, 0.22), (56.89, 4.97),
    (56.77, 3.46), (56.54, 0.36), (56.54, -0.67), (56.33, 3.99), (56.26, 4.78),
    (56.07, -1.39), (55.93, 2.69), (55.83, 0.89), (56.14, -2.31), (55.46, 3.17),
    (55.37, 1.54), (55.27, -0.91), (55.13, 3.36), (55.08, -1.87), (54.99, -2.79),
    (55.72, -0.31), (55.55, 0.29), (54.85, 2.45),
]
outer_a = [p[0] for p in outer_sims]
outer_b = [p[1] for p in outer_sims]

# 100 default-prior draws shown as lines
line_a = [
    49.8, 46.2, 52.5, 48.1, 50.9, 44.7, 51.6, 47.5, 53.8, 49.0,
    45.9, 50.4, 48.6, 55.1, 47.0, 51.2, 43.8, 49.5, 52.0, 46.8,
    51.9, 48.3, 46.5, 50.1, 54.2, 47.8, 49.2, 45.3, 52.8, 50.7,
    47.3, 53.1, 49.9, 44.2, 51.4, 48.8, 46.1, 50.5, 56.0, 48.0,
    50.2, 45.6, 52.3, 49.3, 47.6, 51.0, 43.1, 53.5, 48.4, 46.9,
    52.7, 48.9, 50.8, 46.3, 49.6, 54.6, 47.2, 51.3, 45.0, 50.0,
    48.5, 51.7, 44.9, 49.1, 53.0, 47.9, 50.6, 46.6, 52.2, 49.4,
    46.0, 50.3, 48.2, 54.9, 47.4, 51.5, 49.7, 44.4, 52.9, 48.7,
    51.1, 47.1, 53.4, 49.8, 45.5, 50.9, 48.0, 52.4, 46.7, 57.3,
    49.2, 52.1, 46.4, 50.6, 48.1, 44.0, 51.8, 47.7, 53.3, 50.1,
]
line_b = [
    1.2, 3.8, -1.5, 2.6, 0.3, 4.9, -0.8, 1.9, -2.7, 3.1,
    0.6, -0.2, 2.2, -3.4, 4.2, 1.5, 5.6, -1.1, 0.9, 2.8,
    -0.5, 3.4, 1.0, 6.3, -1.9, 2.1, 0.2, 4.5, -0.9, 1.7,
    2.9, -2.2, 1.4, 5.1, -0.4, 3.6, 0.8, 2.4, -1.3, 4.0,
    -3.0, 1.8, 3.2, 0.0, 5.8, -0.7, 2.5, 1.1, 3.9, -1.6,
    2.0, 4.6, -2.4, 1.3, 3.0, 0.4, 7.2, -1.0, 2.7, 1.6,
    3.5, -0.1, 2.3, -1.8, 4.8, 1.0, -0.6, 3.3, 0.7, 5.3,
    1.4, 2.6, -2.9, 0.5, 3.7, -1.2, 2.0, 6.0, 0.1, -0.3,
    4.3, 1.7, -1.4, 2.9, 0.8, 3.9, -4.1, 1.2, 2.4, -0.8,
    0.9, 5.0, 2.1, -0.5, 3.1, 1.9, -2.0, 4.4, 1.1, 2.5,
]

# informative-prior draws shown as lines
inf_a = [
    48.8, 49.3, 48.2, 48.9, 49.6, 48.5, 49.0, 48.1, 49.4, 48.7,
    49.1, 48.4, 49.8, 48.6, 48.0, 49.2, 48.9, 49.5, 48.3, 48.8,
    48.5, 49.0, 48.7, 49.3, 47.9, 48.9, 49.7, 48.4, 49.1, 48.6,
    49.4, 48.2, 48.8, 49.0, 48.6, 49.9, 48.3, 48.9, 49.2, 48.5,
    48.7, 49.6, 48.1, 48.8, 49.3, 48.4, 49.0, 47.8, 49.5, 48.9,
    49.2, 48.6, 49.1, 48.3, 48.9, 49.4, 48.7, 48.0, 49.0, 49.7,
    48.4, 48.9, 49.3, 48.6, 49.8, 48.2, 48.8, 49.1, 48.5, 49.0,
    49.5, 48.7, 48.1, 49.2, 48.9, 48.4, 49.6, 48.8, 48.3, 49.1,
    48.6, 49.0, 48.8, 47.9, 49.4, 48.5, 49.2, 48.7, 49.9, 48.2,
    48.9, 49.3, 48.6, 49.0, 48.1, 48.8, 49.5, 48.1, 48.1, 48.3,
]
inf_b = [
    0.05, -0.21, 0.30, -0.08, 0.12, -0.35, 0.22, 0.01, -0.15, 0.28,
    -0.26, 0.14, -0.04, 0.33, -0.12, 0.19, -0.30, 0.07, 0.24, -0.18,
    0.10, -0.02, 0.36, -0.24, 0.16, -0.10, 0.03, 0.27, -0.33, 0.09,
    -0.14, 0.21, -0.28, 0.06, 0.31, -0.06, 0.15, -0.20, 0.00, 0.25,
    0.18, -0.11, 0.04, 0.38, -0.27, 0.11, -0.16, 0.29, 0.08, -0.03,
    -0.22, 0.26, -0.09, 0.13, -0.32, 0.02, 0.20, 0.34, -0.13, 0.07,
    0.23, -0.05, 0.17, -0.29, 0.09, 0.32, -0.19, 0.04, -0.25, 0.14,
    -0.07, 0.12, 0.35, -0.17, 0.01, 0.24, -0.23, 0.16, 0.06, -0.31,
    0.19, -0.26, 0.08, 0.30, -0.12, 0.22, -0.04, 0.11, -0.20, 0.27,
    -0.10, 0.05, 0.15, -0.34, 0.25, -0.08, 0.03, -0.85, -0.78, -0.80,
]
# informative-prior draws shown in the scatter
inf_sim_a = inf_a[:97] + [
    47.4, 50.3, 48.0, 49.7, 47.6, 50.1, 48.2, 49.9, 47.8, 50.4,
    48.6, 49.0, 48.8, 48.5, 49.2, 48.7, 48.9, 49.1, 48.4, 48.3,
    47.5, 50.0, 47.9, 49.6, 48.1, 49.8, 47.7, 50.2, 48.5, 49.3,
    48.8, 48.6, 49.0, 48.9, 48.7, 48.8, 49.1, 48.4, 48.6, 49.2,
    47.3, 50.5, 47.6, 49.5, 48.0, 49.4, 48.3, 49.0, 48.8, 48.7,
    49.8, 47.8, 49.8, 49.6, 48.2, 48.5, 49.3, 48.0, 49.7, 48.6,
    48.9, 48.5, 49.2, 48.7, 49.0, 48.4, 49.4, 48.8, 48.6, 49.1,
    48.3, 49.5, 48.8, 48.9, 48.2, 49.6, 48.7, 49.0, 48.5, 49.3,
]
inf_sim_b = inf_b[:97] + [
    0.05, -0.10, 0.20, -0.25, 0.35, 0.15, -0.40, 0.00, -0.15, 0.25,
    0.50, -0.50, 0.55, -0.45, 0.45, 0.60, -0.55, 0.40, -0.35, 0.30,
    -0.05, 0.10, -0.30, 0.30, 0.45, -0.20, 0.15, 0.05, -0.45, 0.50,
    0.65, -0.52, 0.70, -0.48, 0.35, -0.30, 0.58, -0.40, 0.42, -0.38,
    -0.12, -0.15, 0.25, 0.38, -0.28, -0.33, 0.52, 0.20, 0.02, -0.05,
    0.18, -0.22, 0.85, 0.22, -0.50, 0.12, -0.26, 0.08, -0.12, 0.28,
    0.10, -0.05, 0.02, 0.15, -0.12, 0.22, -0.20, 0.30, 0.05, -0.28,
    0.18, 0.08, -0.35, 0.40, -0.02, -0.08, 0.12, 0.25, 0.33, -0.18,
]

# axis ticks
ab_x_ticks = [35, 40, 45, 50, 55, 60]
ab_y_ticks = [-5, 0, 5, 10]
attr_ticks = [-2, -1, 0, 1, 2]
pct_ticks = [45, 50, 55]
pct_labels = ["45%", "50%", "55%"]

# ------------------------------------------------------------------ helpers
FONT = "Liberation Sans, Arial, Helvetica, sans-serif"
GRAY = "#8a8a8a"


def abline(avals, bvals, x0=-3.0, x1=3.0):
    xs, ys = [], []
    for a, b in zip(avals, bvals):
        xs += [x0, x1, None]
        ys += [a + b * x0, a + b * x1, None]
    return xs, ys


def px_x(p):
    return p / W


def px_y(p):
    return 1 - p / H


def pts(xa, ya, size, xaxis, yaxis):
    n = min(len(xa), len(ya))
    return go.Scatter(x=xa[:n], y=ya[:n], mode="markers",
                      marker=dict(size=size, color="black"),
                      xaxis=xaxis, yaxis=yaxis, hoverinfo="skip")


fig = go.Figure()

# --- top-left scatter
fig.add_trace(pts(core_a, core_b, 4.6, "x", "y"))
fig.add_trace(pts(ring_a, ring_b, 3.6, "x", "y"))
fig.add_trace(pts(mid_a + line_a, mid_b + line_b, 3.0, "x", "y"))
fig.add_trace(pts(halo_a, halo_b, 2.9, "x", "y"))
fig.add_trace(pts(outer_a, outer_b, 2.8, "x", "y"))

# --- top-right lines
fig.add_trace(pts(obs_x, obs_y, 7.5, "x2", "y2"))
lx, ly = abline(line_a, line_b)
fig.add_trace(go.Scatter(x=lx, y=ly, mode="lines",
                         line=dict(color=GRAY, width=1),
                         xaxis="x2", yaxis="y2", hoverinfo="skip"))
fx, fy = abline([ls_fit[0]], [ls_fit[1]])
fig.add_trace(go.Scatter(x=fx, y=fy, mode="lines",
                         line=dict(color="black", width=2.2),
                         xaxis="x2", yaxis="y2", hoverinfo="skip"))

# --- bottom-left scatter
fig.add_trace(pts(inf_sim_a, inf_sim_b, 5.2, "x3", "y3"))

# --- bottom-right lines
fig.add_trace(pts(obs_x, obs_y, 7.5, "x4", "y4"))
lx, ly = abline(inf_a, inf_b)
fig.add_trace(go.Scatter(x=lx, y=ly, mode="lines",
                         line=dict(color=GRAY, width=1),
                         xaxis="x4", yaxis="y4", hoverinfo="skip"))
fx, fy = abline([bayes_fit[0]], [bayes_fit[1]])
fig.add_trace(go.Scatter(x=fx, y=fy, mode="lines",
                         line=dict(color="black", width=2.2),
                         xaxis="x4", yaxis="y4", hoverinfo="skip"))

# ------------------------------------------------------------------ axes
axis_common = dict(showline=True, linecolor="#222", linewidth=1.3, mirror=False,
                   ticks="outside", ticklen=3, tickwidth=1, tickcolor="#222",
                   showgrid=False, zeroline=False, fixedrange=True,
                   tickfont=dict(family=FONT, size=14.5, color="#111"))

L = [px_x(53.3), px_x(491.7)]
R = [px_x(579.0), 1.0]
T = [px_y(328.3), px_y(48.0)]
B = [px_y(749.0), px_y(468.3)]

fig.update_layout(
    xaxis=dict(domain=L, range=[33.08, 63.94], tickvals=ab_x_ticks, anchor="y",
               ticklabelstandoff=3, **axis_common),
    yaxis=dict(domain=T, range=[-8.95, 11.22], tickvals=ab_y_ticks, anchor="x",
               tickangle=-90, ticklabelstandoff=5, **axis_common),
    xaxis2=dict(domain=R, range=[-2.158, 2.0985], tickvals=attr_ticks, anchor="y2",
                ticklabelstandoff=3, **axis_common),
    yaxis2=dict(domain=T, range=[42.4, 57.52], tickvals=pct_ticks, ticktext=pct_labels,
                anchor="x2", tickangle=-90, ticklabelstandoff=2, **axis_common),
    xaxis3=dict(domain=L, range=[33.08, 63.94], tickvals=ab_x_ticks, anchor="y3",
                ticklabelstandoff=3, **axis_common),
    yaxis3=dict(domain=B, range=[-8.95, 11.22], tickvals=ab_y_ticks, anchor="x3",
                tickangle=-90, ticklabelstandoff=5, **axis_common),
    xaxis4=dict(domain=R, range=[-2.158, 2.0985], tickvals=attr_ticks, anchor="y4",
                ticklabelstandoff=3, **axis_common),
    yaxis4=dict(domain=B, range=[42.4, 57.52], tickvals=pct_ticks, ticktext=pct_labels,
                anchor="x4", tickangle=-90, ticklabelstandoff=2, **axis_common),
)

# ------------------------------------------------------------------ text
ann = []


def label(text, x, y, size=14.5, bold=False, angle=0):
    ann.append(dict(text=f"<b>{text}</b>" if bold else text,
                    x=px_x(x), y=px_y(y), xref="paper", yref="paper",
                    xanchor="center", yanchor="middle", showarrow=False,
                    textangle=angle,
                    font=dict(family=FONT, size=size, color="#111")))


label("Posterior simulations under default prior", 272.5, 21.7, 17.4, True)
label("Least\u2212squares regression line and", 798, 11.7, 17.4, True)
label("posterior uncertainty given default prior", 798, 32.3, 17.4, True)
label("Posterior simulations under informative prior", 272.5, 442.3, 17.4, True)
label("Bayes estimated regression line and", 798, 432.3, 17.4, True)
label("posterior uncertainty given informative prior", 798, 453.3, 17.4, True)

label("Intercept, a", 272.5, 368)
label("Slope, b", 15.5, 188.3, angle=-90)
label("Attractiveness of parent", 798, 368)
label("Percentage of girl babies", 540, 188, angle=-90)
label("Intercept, a", 272.5, 788)
label("Slope, b", 15.5, 608.7, angle=-90)
label("Attractiveness of parent", 798, 788)
label("Percentage of girl babies", 540, 608.7, angle=-90)

fig.update_layout(
    width=W, height=H, margin=dict(l=0, r=0, t=0, b=0),
    paper_bgcolor="white", plot_bgcolor="white",
    showlegend=False, annotations=ann,
)

fig.write_html("out.html", config={"displayModeBar": False, "staticPlot": True})

# remove the browser's default page margin so the figure fills the window exactly
with open("out.html", encoding="utf-8") as fh:
    page = fh.read()
page = page.replace("<head>", "<head><style>html,body{margin:0;padding:0;overflow:hidden;}</style>", 1)
with open("out.html", "w", encoding="utf-8") as fh:
    fh.write(page)
